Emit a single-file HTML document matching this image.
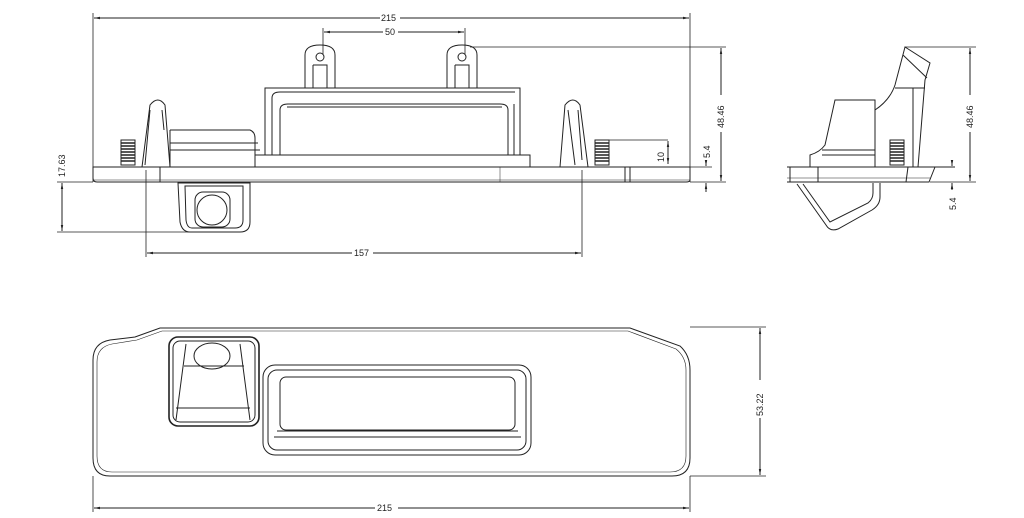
<!DOCTYPE html>
<html><head><style>body{margin:0;background:#fff}svg{display:block}text{font-family:"Liberation Sans",sans-serif;font-size:9px;fill:#222}</style></head>
<body>
<svg width="1024" height="518" viewBox="0 0 1024 518" xmlns="http://www.w3.org/2000/svg">
<defs><marker id="a" viewBox="0 0 10 10" refX="10" refY="5" markerWidth="6" markerHeight="6" orient="auto-start-reverse"><path d="M0,3L10,5L0,7z" fill="#222"/></marker></defs>
<g stroke="#222" fill="none" stroke-width="1">
<!-- top view dims -->
<line x1="93" y1="13" x2="93" y2="182" stroke-width="0.8"/>
<line x1="690" y1="13" x2="690" y2="182" stroke-width="0.8"/>
<line x1="94" y1="18" x2="380" y2="18" marker-start="url(#a)"/><line x1="400" y1="18" x2="689" y2="18" marker-end="url(#a)"/>
<line x1="323" y1="28" x2="323" y2="55" stroke-width="0.8"/><line x1="465" y1="28" x2="465" y2="55" stroke-width="0.8"/>
<line x1="324" y1="32" x2="383" y2="32" marker-start="url(#a)"/><line x1="398" y1="32" x2="464" y2="32" marker-end="url(#a)"/>
<!-- ears -->
<path d="M305,88 V55 Q305,45 320,45 Q335,45 335,55 V88"/><circle cx="320" cy="57" r="4"/>
<path d="M313,65 H327 V88"/><path d="M313,65 V88"/>
<path d="M447,88 V55 Q447,45 462,45 Q477,45 477,55 V88"/><circle cx="462" cy="57" r="4"/>
<path d="M455,65 H469 V88"/><path d="M455,65 V88"/>
<!-- box -->
<path d="M265,155 V88 H520 V155"/><path d="M272,155 V98 Q272,92 280,92 H515"/>
<path d="M280,155 V110 Q280,104 288,104 H500 Q508,104 508,110 V155"/><line x1="287" y1="107" x2="502" y2="107"/>
<line x1="514" y1="104" x2="514" y2="155"/>
<path d="M255,155 H530 V167"/><path d="M255,155 V167"/>
<!-- camera block -->
<path d="M170,130 H250 Q255,132 255,138 V167"/><line x1="170" y1="143" x2="258" y2="143"/><line x1="170" y1="150" x2="260" y2="150"/><line x1="170" y1="130" x2="170" y2="167"/>
<!-- clips -->
<path d="M142,167 L150,105 Q158,95 165,105 L170,167"/><path d="M150,110 L145,165 M162,110 L164,130"/>
<path d="M560,167 L565,105 Q573,95 580,105 L588,167"/><path d="M568,110 L575,165 M578,110 L582,160"/>
<!-- springs -->
<rect x="121" y="140" width="14" height="25"/><path d="M121,143h14M121,146h14M121,149h14M121,152h14M121,155h14M121,158h14M121,161h14" stroke-width="1.5"/>
<rect x="595" y="140" width="14" height="25"/><path d="M595,143h14M595,146h14M595,149h14M595,152h14M595,155h14M595,158h14M595,161h14" stroke-width="1.5"/>
<line x1="609" y1="140" x2="668" y2="140" stroke-width="0.8"/>
<!-- plate -->
<path d="M93,167 H690 V180 Q690,182 686,182 H97 Q93,182 93,178 Z"/><line x1="93" y1="180" x2="690" y2="180" stroke-width="0.6"/>
<line x1="160" y1="167" x2="160" y2="182"/><line x1="500" y1="167" x2="500" y2="182" stroke-width="0.5"/><line x1="625" y1="167" x2="625" y2="182"/><line x1="630" y1="167" x2="630" y2="182"/>
<!-- camera housing -->
<path d="M178,183 H250 V222 Q250,232 240,232 H190 Q182,232 180,222 Z"/><path d="M185,186 H243 V220 Q243,228 235,228 H192 Q187,228 186,220 Z"/>
<rect x="195" y="192" width="35" height="35" rx="8"/><circle cx="212" cy="210" r="15"/>
<!-- 17.63 -->
<line x1="57" y1="182" x2="93" y2="182" stroke-width="0.8"/><line x1="57" y1="232" x2="192" y2="232" stroke-width="0.8"/>
<line x1="62" y1="183" x2="62" y2="231" marker-start="url(#a)" marker-end="url(#a)"/>
<!-- 157 -->
<line x1="146" y1="170" x2="146" y2="257" stroke-width="0.8"/><line x1="582" y1="170" x2="582" y2="257" stroke-width="0.8"/>
<line x1="147" y1="253" x2="352" y2="253" marker-start="url(#a)"/><line x1="373" y1="253" x2="581" y2="253" marker-end="url(#a)"/>
<!-- 48.46 -->
<line x1="470" y1="47" x2="726" y2="47" stroke-width="0.8"/><line x1="690" y1="182" x2="726" y2="182" stroke-width="0.8"/>
<line x1="721" y1="48" x2="721" y2="95" marker-start="url(#a)"/><line x1="721" y1="132" x2="721" y2="181" marker-end="url(#a)"/>
<!-- 10 -->
<line x1="668" y1="141" x2="668" y2="164" marker-start="url(#a)" marker-end="url(#a)"/>
<!-- 5.4 -->
<line x1="706" y1="160" x2="706" y2="166" marker-end="url(#a)"/><line x1="706" y1="192" x2="706" y2="183" marker-end="url(#a)"/>
<line x1="690" y1="167" x2="712" y2="167" stroke-width="0.8"/>
<!-- side view -->
<path d="M787,167 H955 M787,182 H929 L935,167 M790,167 V182"/><line x1="787" y1="178" x2="930" y2="178" stroke-width="0.6"/>
<line x1="818" y1="167" x2="818" y2="182"/><line x1="908" y1="167" x2="906" y2="182"/>
<path d="M810,167 V155 Q820,152 825,145 L835,100 H875 V110 Q890,100 895,85 L905,47 L930,63 L925,80 L918,167"/>
<path d="M903,55 L927,78 M895,88 H925 M913,88 V167 M822,155 H875 M822,150 H875 M875,110 V167"/>
<rect x="890" y="140" width="14" height="25"/><path d="M890,143h14M890,146h14M890,149h14M890,152h14M890,155h14M890,158h14M890,161h14" stroke-width="1.5"/>
<path d="M797,184 L826,225 Q830,232 838,229 L872,210 Q880,205 880,197 V183"/><path d="M803,184 L830,222 L868,203 Q873,199 873,193 V183"/>
<line x1="905" y1="47" x2="976" y2="47" stroke-width="0.8"/><line x1="930" y1="182" x2="976" y2="182" stroke-width="0.8"/>
<line x1="970" y1="48" x2="970" y2="95" marker-start="url(#a)"/><line x1="970" y1="132" x2="970" y2="181" marker-end="url(#a)"/>
<line x1="952" y1="160" x2="952" y2="166" marker-end="url(#a)"/><line x1="952" y1="190" x2="952" y2="183" marker-end="url(#a)"/>
<!-- bottom view -->
<path d="M135,337 L160,328 H630 L680,346 Q690,355 690,370 V458 Q690,476 672,476 H110 Q93,476 93,458 V360 Q93,343 110,340 Z"/>
<path d="M137,340 L162,331 H628 L676,349 Q686,357 686,370 V456 Q686,472 670,472 H112 Q97,472 97,456 V362 Q97,347 112,344 Z" stroke-width="0.6"/>
<rect x="169" y="337" width="90" height="89" rx="9" stroke-width="1.6"/>
<rect x="173" y="341" width="82" height="81" rx="7"/>
<ellipse cx="212" cy="356" rx="18" ry="13"/>
<path d="M186,344 L176,420 M240,344 L250,420 M184,366 H244 M176,408 H250"/>
<rect x="263" y="365" width="268" height="90" rx="12"/><rect x="268" y="370" width="258" height="80" rx="9"/>
<rect x="280" y="377" width="235" height="53" rx="6"/><path d="M274,437 H521 M277,431 H518"/>
<line x1="690" y1="327" x2="766" y2="327" stroke-width="0.8"/><line x1="690" y1="476" x2="766" y2="476" stroke-width="0.8"/>
<line x1="760" y1="328" x2="760" y2="380" marker-start="url(#a)"/><line x1="760" y1="418" x2="760" y2="475" marker-end="url(#a)"/>
<line x1="93" y1="476" x2="93" y2="512" stroke-width="0.8"/><line x1="690" y1="476" x2="690" y2="512" stroke-width="0.8"/>
<line x1="94" y1="508" x2="375" y2="508" marker-start="url(#a)"/><line x1="398" y1="508" x2="689" y2="508" marker-end="url(#a)"/>
</g>
<text x="381" y="21">215</text><text x="385" y="35">50</text><text x="354" y="256">157</text>
<text x="377" y="511">215</text>
<text transform="translate(65,177) rotate(-90)">17.63</text>
<text transform="translate(724,128) rotate(-90)">48.46</text>
<text transform="translate(664,162) rotate(-90)">10</text>
<text transform="translate(710,158) rotate(-90)">5.4</text>
<text transform="translate(973,128) rotate(-90)">48.46</text>
<text transform="translate(956,210) rotate(-90)">5.4</text>
<text transform="translate(763,416) rotate(-90)">53.22</text>
</svg>
</body></html>
